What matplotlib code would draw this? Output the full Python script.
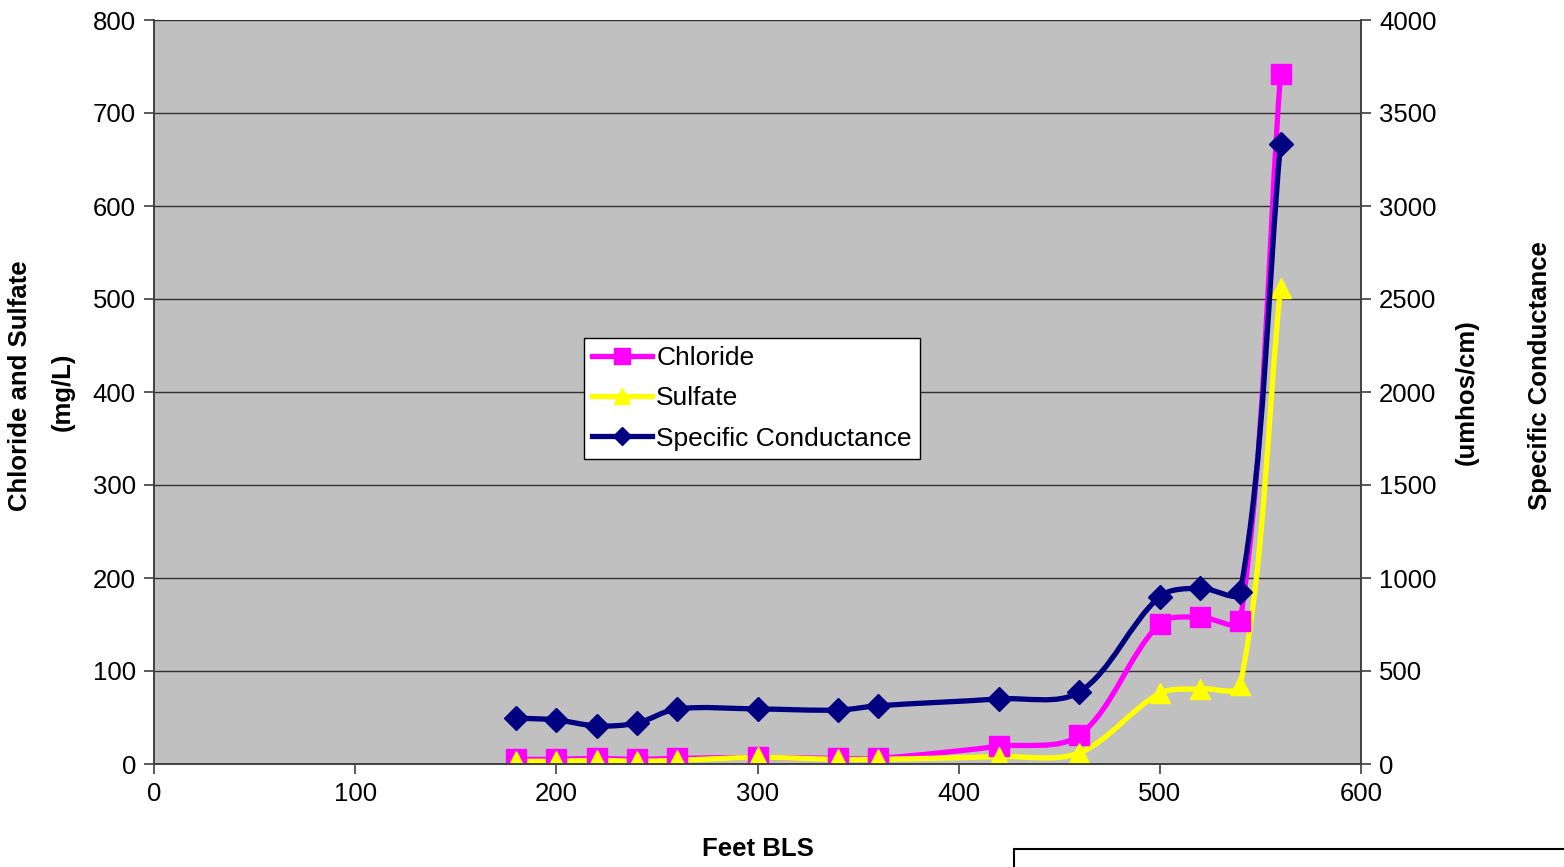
import matplotlib
matplotlib.use("Agg")
import matplotlib.pyplot as plt
from matplotlib.path import Path
from matplotlib.patches import PathPatch, Rectangle
from matplotlib.lines import Line2D
import numpy as np

plt.rcParams["font.family"] = ["Liberation Sans", "DejaVu Sans"]

# Data
feet = [180, 200, 220, 240, 260, 300, 340, 360, 420, 460, 500, 520, 540, 560]
chloride = [5, 5, 6, 5, 6, 7, 6, 6, 19, 31, 151, 158, 154, 742]
sulfate = [3, 3, 4, 3, 4, 7, 5, 5, 8, 12, 76, 81, 85, 512]
spec_cond = [247, 237, 205, 220, 296, 296, 290, 313, 350, 387, 900, 946, 925, 3335]


def smooth_path(a, x, y, s=1 / 3):
    # Excel-like smoothed line, control points worked out in screen space
    p = a.transData.transform(np.column_stack([x, y]).astype(float))
    n = len(p)
    out_cp, in_cp = [], []
    for i in range(n):
        prev = p[i - 1] if i > 0 else p[i]
        nxt = p[i + 1] if i + 1 < n else p[i]
        t = nxt - prev
        dp = np.hypot(*(p[i] - prev))
        dn = np.hypot(*(nxt - p[i]))
        tot = dp + dn if dp + dn > 0 else 1
        out_cp.append(p[i] + t * s * dn / tot)
        in_cp.append(p[i] - t * s * dp / tot)
    verts = [p[0]]
    codes = [Path.MOVETO]
    for i in range(n - 1):
        verts += [out_cp[i], in_cp[i + 1], p[i + 1]]
        codes += [Path.CURVE4] * 3
    verts = a.transData.inverted().transform(np.array(verts))
    return Path(verts, codes)


fig = plt.figure(figsize=(15.64, 8.67), dpi=100)
ax = fig.add_axes([154 / 1564, 1 - 764 / 867, 1207 / 1564, 744 / 867])
ax2 = ax.twinx()

ax.set_facecolor("#C0C0C0")
ax.set_xlim(0, 600)
ax.set_ylim(0, 800)
ax2.set_ylim(0, 4000)
ax.set_xticks(range(0, 601, 100))
ax.set_yticks(range(0, 801, 100))
ax2.set_yticks(range(0, 4001, 500))
ax.grid(axis="y", color="#303030", lw=1)
ax.set_axisbelow(True)

for a in (ax, ax2):
    a.spines["top"].set_visible(False)
    for s in ("left", "right", "bottom"):
        a.spines[s].set_color("#404040")
        a.spines[s].set_linewidth(1.2)
    a.tick_params(direction="out", length=7, width=1.2, color="#404040",
                  labelsize=18.5, pad=6)

series = [
    (ax, chloride, "#FF00FF", "s", 14, "Chloride"),
    (ax, sulfate, "#FFFF00", "^", 15, "Sulfate"),
    (ax2, spec_cond, "#000080", "D", 12, "Specific Conductance"),
]
handles = []
for a, vals, col, mk, ms, name in series:
    a.add_patch(PathPatch(smooth_path(a, feet, vals), fill=False, edgecolor=col,
                          lw=3.8, capstyle="round", joinstyle="round"))
    a.plot(feet, vals, ls="none", marker=mk, ms=ms, color=col, mec=col)
    handles.append(Line2D([], [], color=col, lw=3.8, marker=mk, ms=ms * 0.8,
                          mec=col, label=name))

leg = ax2.legend(handles=handles, loc="upper left",
                 bbox_to_anchor=(0.356, 0.5726), fontsize=19, frameon=True,
                 fancybox=False, edgecolor="black", framealpha=1,
                 handlelength=2.3, handletextpad=0.15, borderpad=0.3,
                 labelspacing=0.62, borderaxespad=0)
leg.get_frame().set_linewidth(1.0)

ax.set_xlabel("Feet BLS", fontsize=18.5, fontweight="bold", labelpad=22)
fig.text(20 / 1564, 1 - 386 / 867, "Chloride and Sulfate", rotation=90,
         fontsize=18.5, fontweight="bold", ha="center", va="center")
fig.text(63 / 1564, 1 - 392 / 867, "(mg/L)", rotation=90,
         fontsize=18.5, fontweight="bold", ha="center", va="center")
fig.text(1467 / 1564, 1 - 392 / 867, "(umhos/cm)", rotation=90,
         fontsize=18.5, fontweight="bold", ha="center", va="center")
fig.text(1540 / 1564, 1 - 376 / 867, "Specific Conductance", rotation=90,
         fontsize=18.5, fontweight="bold", ha="center", va="center")

fig.patches.append(Rectangle((1014 / 1564, -0.05), 0.4, 0.05 + (867 - 849) / 867,
                             transform=fig.transFigure, fill=False,
                             edgecolor="black", lw=1.5))

fig.savefig("out.png", dpi=100)
